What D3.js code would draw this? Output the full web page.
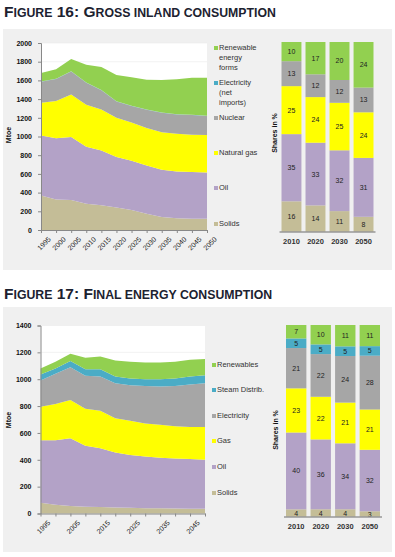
<!DOCTYPE html>
<html>
<head>
<meta charset="utf-8">
<script src="https://cdn.jsdelivr.net/npm/d3@7"></script>
<style>
  body { margin: 0; background: #fff; }
  svg { display: block; font-family: "Liberation Sans", Arial, sans-serif; }
</style>
</head>
<body>
<div id="chart"></div>
<script>
// ---- data ----
var years = [1995, 2000, 2005, 2010, 2015, 2020, 2025, 2030, 2035, 2040, 2045, 2050];
var shareYears = ["2010", "2020", "2030", "2050"];

// Figure 16: gross inland consumption (Mtoe)
var gicKeys = ["Solids", "Oil", "Natural gas", "Nuclear", "Electricity", "Renewable"];
var gicSolids = [370, 325, 320, 280, 265, 240, 215, 175, 140, 125, 120, 120];
var gicOil = [640, 655, 675, 610, 585, 540, 525, 515, 505, 500, 500, 495];
var gicGas = [350, 400, 455, 450, 440, 420, 410, 400, 400, 405, 400, 400];
var gicNuclear = [225, 235, 245, 235, 205, 175, 175, 195, 210, 205, 210, 205];
var gicElec = [3, 3, 3, 3, 3, 3, 3, 3, 3, 3, 3, 3];
var gicRenew = [90, 100, 130, 190, 245, 280, 305, 320, 345, 375, 395, 405];
// shares in %
var gicShareSolids = [16, 14, 11, 8];
var gicShareOil = [35, 33, 32, 31];
var gicShareGas = [25, 24, 25, 24];
var gicShareNuclear = [13, 12, 12, 13];
var gicShareElec = [0, 0, 0, 0];
var gicShareRenew = [10, 17, 20, 24];
var gicTicks = [0, 200, 400, 600, 800, 1000, 1200, 1400, 1600, 1800, 2000];

// Figure 17: final energy consumption (Mtoe)
var fecKeys = ["Solids", "Oil", "Gas", "Electricity", "Steam", "Renewables"];
var fecSolids = [80, 65, 55, 50, 48, 45, 42, 40, 40, 38, 36, 35];
var fecOil = [465, 480, 505, 455, 437, 410, 393, 385, 375, 372, 369, 365];
var fecGas = [250, 270, 285, 275, 280, 255, 255, 245, 245, 240, 240, 245];
var fecElec = [195, 225, 245, 245, 255, 260, 265, 280, 285, 300, 315, 325];
var fecSteam = [45, 40, 45, 50, 55, 50, 50, 50, 55, 55, 60, 60];
var fecRenew = [45, 50, 55, 85, 95, 120, 125, 125, 125, 125, 125, 120];
var fecShareSolids = [4, 4, 4, 3];
var fecShareOil = [40, 36, 34, 32];
var fecShareGas = [23, 22, 21, 21];
var fecShareElec = [21, 22, 24, 28];
var fecShareSteam = [5, 5, 5, 5];
var fecShareRenew = [7, 10, 11, 11];
var fecTicks = [0, 200, 400, 600, 800, 1000, 1200, 1400];

var colors = ["#c4bd97", "#b3a2c7", "#ffff00", "#a6a6a6", "#4bacc6", "#92d050"];

function rows(keys, cats, catName, series) {
    return cats.map(function (c, i) {
        var r = {};
        r[catName] = c;
        keys.forEach(function (k, j) { r[k] = series[j][i]; });
        return r;
    });
}

var svg = d3.select("#chart").append("svg")
    .attr("width", 395)
    .attr("height", 557);

function title(y, big, small) {
    // small caps look: first letters larger
    var t = svg.append("text")
        .attr("x", 4).attr("y", y)
        .attr("fill", "#1c2230")
        .attr("font-weight", "bold");
    big.forEach(function (b, i) {
        t.append("tspan").attr("font-size", "15.5px").text(b);
        t.append("tspan").attr("font-size", "12.3px").text(small[i]);
    });
}

function panel(cfg) {
    var g = svg.append("g");
    g.append("rect")
        .attr("x", 3).attr("y", cfg.top)
        .attr("width", 389).attr("height", cfg.h)
        .attr("fill", "#f0f0f0");

    // ---- area chart ----
    var x = d3.scaleLinear().domain([1995, 2050]).range(cfg.ax);
    var y = d3.scaleLinear().domain([0, cfg.max]).range(cfg.ay);

    g.append("rect")
        .attr("x", cfg.ax[0]).attr("y", cfg.ay[1])
        .attr("width", cfg.ax[1] - cfg.ax[0]).attr("height", cfg.ay[0] - cfg.ay[1])
        .attr("fill", "#fff");

    g.append("g").selectAll("line")
        .data(cfg.ticks.slice(1))
        .enter().append("line")
        .attr("x1", cfg.ax[0]).attr("x2", cfg.ax[1])
        .attr("y1", function (d) { return y(d); })
        .attr("y2", function (d) { return y(d); })
        .attr("stroke", "#ececec").attr("stroke-width", 0.7);

    var data = rows(cfg.keys, years, "year", cfg.series);
    var stacked = d3.stack().keys(cfg.keys)(data);
    var area = d3.area()
        .x(function (d) { return x(d.data.year); })
        .y0(function (d) { return y(d[0]); })
        .y1(function (d) { return y(d[1]); });

    g.append("g").selectAll("path")
        .data(stacked)
        .enter().append("path")
        .attr("d", area)
        .attr("fill", function (d, i) { return colors[i]; });

    var yAxis = g.append("g")
        .attr("transform", "translate(" + cfg.ax[0] + ",0)")
        .call(d3.axisLeft(y).tickValues(cfg.ticks).tickFormat(d3.format("d")).tickSize(3).tickPadding(6));
    yAxis.select(".domain").attr("stroke", "#888");
    yAxis.selectAll(".tick line").attr("stroke", "#888");
    yAxis.selectAll("text").attr("font-size", "7px").attr("font-weight", "bold").attr("fill", "#111");

    var xAxis = g.append("g")
        .attr("transform", "translate(0," + cfg.ay[0] + ")")
        .call(d3.axisBottom(x).tickValues(years).tickSize(3).tickSizeOuter(0)
            .tickFormat(function (d) { return cfg.labelYears.indexOf(d) >= 0 ? d : ""; }));
    xAxis.select(".domain").attr("stroke", "#888");
    xAxis.selectAll(".tick line").attr("stroke", "#888");
    xAxis.selectAll("text")
        .attr("font-size", "7px").attr("fill", "#222")
        .attr("text-anchor", "end")
        .attr("transform", "translate(3,3) rotate(-45)")
        .attr("dy", "0.5em");

    g.append("text")
        .attr("transform", "translate(" + cfg.mtoe[0] + "," + cfg.mtoe[1] + ") rotate(-90)")
        .attr("text-anchor", "middle")
        .attr("font-size", "7px").attr("font-weight", "bold").attr("fill", "#111")
        .text("Mtoe");

    // ---- legend ----
    var leg = g.append("g").selectAll("g")
        .data(cfg.legend)
        .enter().append("g")
        .attr("transform", function (d) { return "translate(" + cfg.legX + "," + d.y + ")"; });
    leg.append("rect")
        .attr("x", 0).attr("y", -4)
        .attr("width", 4).attr("height", 4)
        .attr("fill", function (d) { return colors[d.c]; });
    leg.append("text")
        .attr("x", 5).attr("y", 0)
        .attr("font-size", "7.5px").attr("fill", "#333")
        .selectAll("tspan")
        .data(function (d) { return d.lines; })
        .enter().append("tspan")
        .attr("x", 5)
        .attr("dy", function (d, i) { return i === 0 ? 0 : 10; })
        .text(function (d) { return d; });

    // ---- 100% bars ----
    var shareRows = rows(cfg.keys, shareYears, "year", cfg.shares);
    shareRows.forEach(function (r) {
        var tot = d3.sum(cfg.keys, function (k) { return r[k]; });
        cfg.keys.forEach(function (k) { r["_" + k] = r[k] / tot; });
    });
    var bx = d3.scaleBand().domain(shareYears).range(cfg.bx).paddingInner(0.17).paddingOuter(0);
    var by = d3.scaleLinear().domain([0, 1]).range(cfg.by);
    var bStack = d3.stack().keys(cfg.keys.map(function (k) { return "_" + k; }))(shareRows);

    var layers = g.append("g").selectAll("g")
        .data(bStack)
        .enter().append("g")
        .attr("fill", function (d, i) { return colors[i]; });
    layers.selectAll("rect")
        .data(function (d) { return d; })
        .enter().append("rect")
        .attr("x", function (d) { return bx(d.data.year); })
        .attr("y", function (d) { return by(d[1]); })
        .attr("width", bx.bandwidth())
        .attr("height", function (d) { return by(d[0]) - by(d[1]); });
    layers.selectAll("text")
        .data(function (d) {
            var key = d.key.slice(1);
            return d.map(function (p) { return {p: p, v: p.data[key]}; });
        })
        .enter().append("text")
        .filter(function (d) { return d.v >= 2; })
        .attr("x", function (d) { return bx(d.p.data.year) + bx.bandwidth() / 2; })
        .attr("y", function (d) { return (by(d.p[0]) + by(d.p[1])) / 2; })
        .attr("dy", "0.35em")
        .attr("text-anchor", "middle")
        .attr("font-size", "7px")
        .attr("fill", "#222")
        .text(function (d) { return d.v; });

    var bAxis = g.append("g")
        .attr("transform", "translate(0," + cfg.by[0] + ")")
        .call(d3.axisBottom(bx).tickSize(0).tickPadding(7));
    bAxis.select(".domain").attr("stroke", "#999").attr("stroke-width", 1.5)
        .attr("d", "M" + (cfg.bx[0] - 2) + ",0H" + (cfg.bx[1] + 2));
    bAxis.selectAll("text").attr("font-size", "7.5px").attr("font-weight", "bold").attr("fill", "#333");

    g.append("text")
        .attr("transform", "translate(" + cfg.shareLbl[0] + "," + cfg.shareLbl[1] + ") rotate(-90)")
        .attr("text-anchor", "middle")
        .attr("font-size", "7px").attr("font-weight", "bold").attr("fill", "#111")
        .text("Shares in %");
}

title(17, ["F", " 16: G"], ["IGURE", "ROSS INLAND CONSUMPTION"]);
panel({
    top: 29, h: 241,
    ax: [41, 207], ay: [230, 43], max: 2000, ticks: gicTicks,
    labelYears: years, mtoe: [11, 135],
    keys: gicKeys,
    series: [gicSolids, gicOil, gicGas, gicNuclear, gicElec, gicRenew],
    shares: [gicShareSolids, gicShareOil, gicShareGas, gicShareNuclear, gicShareElec, gicShareRenew],
    legX: 214,
    legend: [
        {c: 5, y: 50, lines: ["Renewable", "energy", "forms"]},
        {c: 4, y: 85, lines: ["Electricity", "(net", "imports)"]},
        {c: 3, y: 120, lines: ["Nuclear"]},
        {c: 2, y: 155, lines: ["Natural gas"]},
        {c: 1, y: 190, lines: ["Oil"]},
        {c: 0, y: 226, lines: ["Solids"]}
    ],
    bx: [281.5, 373.5], by: [232, 42], shareLbl: [277, 133]
});

title(299, ["F", " 17: F"], ["IGURE", "INAL ENERGY CONSUMPTION"]);
panel({
    top: 307, h: 245,
    ax: [40.5, 205], ay: [513.5, 325.5], max: 1400, ticks: fecTicks,
    labelYears: [1995, 2005, 2015, 2025, 2035, 2045], mtoe: [11, 420],
    keys: fecKeys,
    series: [fecSolids, fecOil, fecGas, fecElec, fecSteam, fecRenew],
    shares: [fecShareSolids, fecShareOil, fecShareGas, fecShareElec, fecShareSteam, fecShareRenew],
    legX: 212,
    legend: [
        {c: 5, y: 367, lines: ["Renewables"]},
        {c: 4, y: 392, lines: ["Steam Distrib."]},
        {c: 3, y: 418, lines: ["Electricity"]},
        {c: 2, y: 443, lines: ["Gas"]},
        {c: 1, y: 469, lines: ["Oil"]},
        {c: 0, y: 495, lines: ["Solids"]}
    ],
    bx: [286, 380], by: [517, 325], shareLbl: [278, 430]
});
</script>
</body>
</html>
